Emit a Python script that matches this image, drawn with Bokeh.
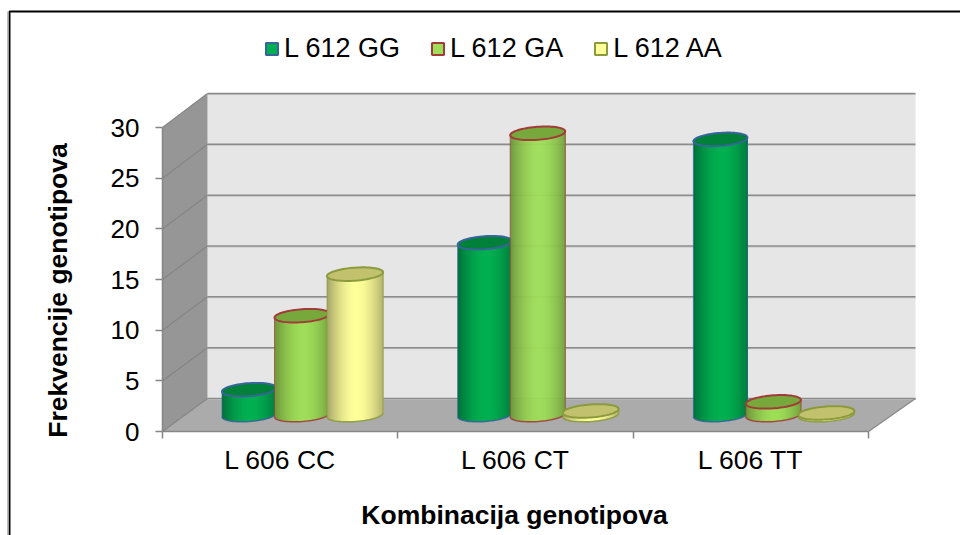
import numpy as np
from bokeh.plotting import figure
from bokeh.models import Range1d, LinearAxis, FixedTicker, Legend, LegendItem
from bokeh.core.properties import value
from bokeh.embed import file_html
from bokeh.resources import INLINE

categories = ["L 606 CC", "L 606 CT", "L 606 TT"]
series = ["L 612 GG", "L 612 GA", "L 612 AA"]
gg = [2.5, 17.0, 27.2]
ga = [9.8, 27.8, 1.3]
aa = [13.9, 0.4, 0.2]
y_ticks = [0, 5, 10, 15, 20, 25, 30]
FONT = "Liberation Sans"

edge_dark = ["#00703a", "#6c943a", "#a3a366"]
centre = ["#00b050", "#9ede58", "#ffff99"]
top_fill = ["#008038", "#76a83c", "#c2c26e"]
outline = ["#37649b", "#a23c3a", "#8a9a3c"]

# pseudo-3D geometry, in page pixels
FX0, FX1, FY0, FY30 = 162.0, 868.0, 431.0, 127.0
BX0, BX1, BY0, BY30 = 207.0, 915.0, 398.0, 93.0
PX0, PX1, PY0, PY1 = 0.0, 960.0, 0.0, 535.0
UNIT = (FY0 - FY30) / 30.0
GROUP = (FX1 - FX0) / 3.0
BASE = 414.5
RY, SHEAR = 6.5, 0.07
CX0, CSTEP, GSTEP = 248.5, 53.0, 235.7
HALF = [27.0, 27.5, 28.0]

p = figure(width=960, height=535, output_backend="svg", toolbar_location=None,
           x_range=Range1d(PX0, PX1), y_range=Range1d(PY1, PY0),
           x_axis_type=None, y_axis_type=None, min_border=0,
           outline_line_color=None, background_fill_color="white")
p.grid.visible = False
p.extra_y_ranges["val"] = Range1d((FY0 - PY1) / UNIT, (FY0 - PY0) / UNIT)
p.extra_x_ranges["grp"] = Range1d((PX0 - FX0) / GROUP, (PX1 - FX0) / GROUP)

# frame lines of the chart area
p.line([9, 9, PX1], [PY1, 11, 11], line_color="black", line_width=2)
p.line([7.5, 7.5], [PY1, 11], line_color="#a6a6a6", line_width=1.5)

# walls
p.patch([BX0, BX1, BX1, BX0], [BY30, BY30, BY0, BY0], fill_color="#e6e6e6", line_color=None)
p.patch([FX0, BX0, BX0, FX0], [FY30, BY30, BY0, FY0], fill_color="#969696", line_color=None)
p.patch([FX0, BX0, BX1, FX1], [FY0, BY0, BY0, FY0], fill_color="#ababab", line_color=None)

for v in y_ticks:
    fy = FY0 - v * UNIT
    by = BY0 - v * (BY0 - BY30) / 30.0
    p.line([BX0, BX1], [by + 1, by + 1], line_color="#c4c4c4", line_width=1)
    p.line([BX0, BX1], [by, by], line_color="#8c8c8c", line_width=1.5)
    p.line([FX0, BX0], [fy, by], line_color="#858585", line_width=1.2)
p.line([FX1, BX1], [FY0, BY0], line_color="#8c8c8c", line_width=1.5)


def mix(a, b, f):
    ca = [int(a[i:i + 2], 16) for i in (1, 3, 5)]
    cb = [int(b[i:i + 2], 16) for i in (1, 3, 5)]
    return "#%02x%02x%02x" % tuple(int(round(x + (y - x) * f)) for x, y in zip(ca, cb))


def cylinder(cx, a, val, s):
    ytop = BASE - val * UNIT
    n = int(2 * a)
    edges = np.linspace(cx - a, cx + a, n + 1)
    lefts, rights, tops, bots, cols = [], [], [], [], []
    for i in range(n):
        xm = 0.5 * (edges[i] + edges[i + 1])
        t = (xm - cx) / a
        root = np.sqrt(max(0.0, 1 - t * t))
        lefts.append(edges[i])
        rights.append(edges[i + 1] + 0.6)
        tops.append(ytop - SHEAR * a * t)
        bots.append(BASE - SHEAR * a * t + RY * root)
        cols.append(mix(edge_dark[s], centre[s], max(0.0, 1 - abs((t - 0.05) / 1.05) ** 1.8)))
    p.quad(left=lefts, right=rights, top=tops, bottom=bots, fill_color=cols, line_color=None)

    phi = np.linspace(0, 2 * np.pi, 73)
    ex = cx + a * np.cos(phi)
    sh = -SHEAR * a * np.cos(phi)
    # outline of the side and of the base
    lower = phi[:37]
    lx = cx + a * np.cos(lower)
    ly = BASE - SHEAR * a * np.cos(lower) + RY * np.sin(lower)
    p.line(list(lx), list(ly), line_color=outline[s], line_width=1.5, line_alpha=0.9)
    p.line([cx - a, cx - a], [ytop + SHEAR * a, BASE + SHEAR * a], line_color=outline[s],
           line_width=1, line_alpha=0.7)
    p.line([cx + a, cx + a], [ytop - SHEAR * a, BASE - SHEAR * a], line_color=outline[s],
           line_width=1, line_alpha=0.7)
    p.patch(list(ex), list(ytop + sh + RY * np.sin(phi)), fill_color=top_fill[s],
            line_color=outline[s], line_width=2)


for g in range(len(categories)):
    for s, vals in enumerate([gg, ga, aa]):
        cylinder(CX0 + g * GSTEP + s * CSTEP, HALF[s], vals[g], s)

# axes
ya = LinearAxis(y_range_name="val", ticker=FixedTicker(ticks=y_ticks), bounds=(0, 30),
                fixed_location=FX0, axis_line_color="#868686", axis_line_width=1.5,
                major_tick_line_color="#868686", major_tick_line_width=1.5,
                major_tick_out=7, major_tick_in=0, minor_tick_out=0, minor_tick_in=0,
                major_label_standoff=16, major_label_text_font=FONT,
                major_label_text_font_size="26px", major_label_text_color="black")
p.add_layout(ya, "left")
xa = LinearAxis(x_range_name="grp",
                ticker=FixedTicker(ticks=[0.5, 1.5, 2.5], minor_ticks=[0, 1, 2, 3]),
                major_label_overrides={0.5: categories[0], 1.5: categories[1], 2.5: categories[2]},
                bounds=(0, 3), fixed_location=FY0, axis_line_color="#868686", axis_line_width=1.5,
                major_tick_out=0, major_tick_in=0, minor_tick_out=7, minor_tick_in=0,
                minor_tick_line_color="#868686", minor_tick_line_width=1.5,
                major_label_standoff=6, major_label_text_font=FONT,
                major_label_text_font_size="26.5px", major_label_text_color="black")
p.add_layout(xa, "below")

# axis titles
p.text([514], [514], text=["Kombinacija genotipova"], text_font=value(FONT), text_font_size="26.5px",
       text_font_style="bold", text_align="center", text_baseline="middle", text_color="black")
p.text([57], [290], text=["Frekvencije genotipova"], text_font=value(FONT), text_font_size="26.5px",
       text_font_style="bold", text_align="center", text_baseline="middle", text_color="black",
       angle=np.pi / 2)

# legend
items = []
for s, name in enumerate(series):
    r = p.quad(left=[np.nan], right=[np.nan], top=[np.nan], bottom=[np.nan],
               fill_color=centre[s], line_color=outline[s], line_width=2)
    items.append(LegendItem(label=name, renderers=[r]))
leg = Legend(items=items, orientation="horizontal", location=(264, 471), glyph_width=15, glyph_height=15,
             label_standoff=5, spacing=30, padding=0, margin=0, border_line_color=None,
             background_fill_color=None, label_text_font=FONT, label_text_font_size="27px",
             label_text_color="black")
p.add_layout(leg, "center")

open("out.html", "w").write(file_html(p, INLINE))
